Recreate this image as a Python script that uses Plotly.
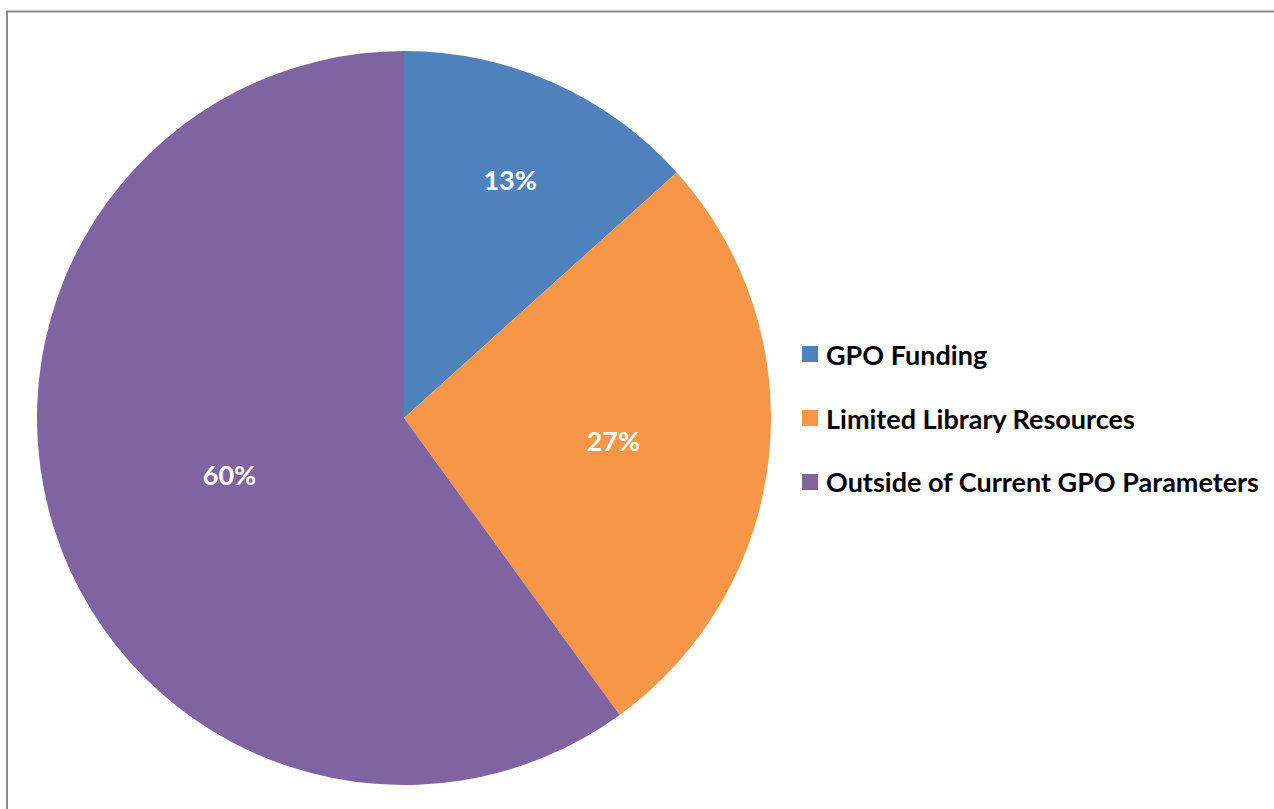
import plotly.graph_objects as go

labels = ["GPO Funding", "Limited Library Resources", "Outside of Current GPO Parameters"]
values = [2, 4, 9]
colors = ["#4F81BD", "#F79646", "#8064A2"]

W, H = 1274, 809
FONT = "Lato"
FS = 27

fig = go.Figure()
fig.add_trace(go.Pie(
    labels=labels,
    values=values,
    marker=dict(colors=colors, line=dict(width=0)),
    sort=False,
    direction="clockwise",
    rotation=0,
    textinfo="percent",
    texttemplate="%{percent:.0%}",
    textposition="inside",
    insidetextorientation="horizontal",
    textfont=dict(family=FONT, size=FS, color="white", weight="bold"),
    domain=dict(x=[37 / W, 771 / W], y=[1 - 785 / H, 1 - 51 / H]),
    showlegend=False,
    hoverinfo="label+percent",
))

# Legend drawn as square markers + text (built from the data lists)
leg_y0 = 354
leg_dy = 64
sq = 16
for i, (lab, col) in enumerate(zip(labels, colors)):
    yc = leg_y0 + i * leg_dy
    fig.add_shape(type="rect", xref="paper", yref="paper",
                  x0=802 / W, x1=(802 + sq) / W,
                  y0=1 - (yc + sq / 2) / H, y1=1 - (yc - sq / 2) / H,
                  fillcolor=col, line=dict(width=0))
    fig.add_annotation(xref="paper", yref="paper", x=824 / W, y=1 - yc / H,
                       xanchor="left", yanchor="middle", showarrow=False,
                       text=lab, font=dict(family=FONT, size=FS, color="black", weight="bold"))

# outer frame
fig.add_shape(type="rect", xref="paper", yref="paper",
              x0=7 / W, x1=1.02, y0=-0.02, y1=1 - 11.5 / H,
              line=dict(color="#8C8C8C", width=2), fillcolor="rgba(0,0,0,0)")

fig.update_layout(
    width=W, height=H,
    margin=dict(l=0, r=0, t=0, b=0),
    paper_bgcolor="white",
    plot_bgcolor="white",
    showlegend=False,
)

fig.write_html("out.html",
               config={"displayModeBar": False},
               post_script="document.body.style.margin='0';document.body.style.overflow='hidden';")
